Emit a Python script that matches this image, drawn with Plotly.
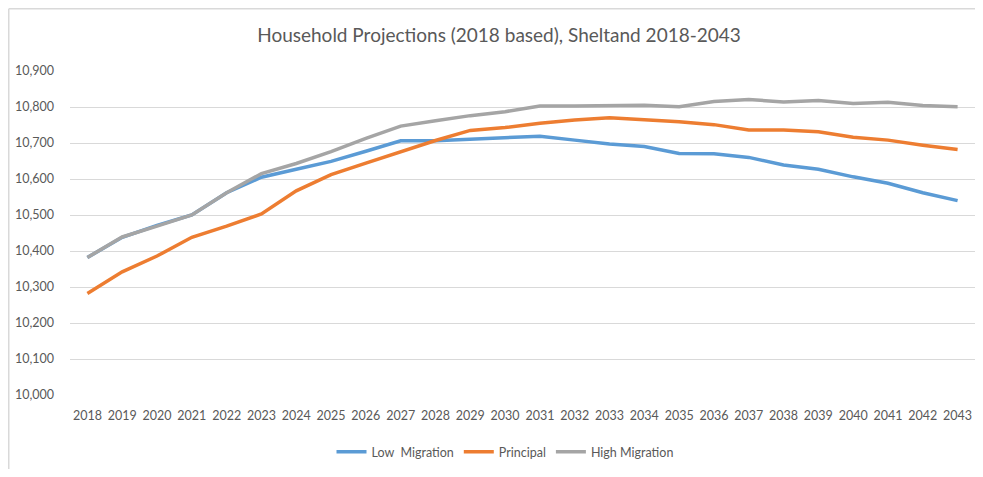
import plotly.graph_objects as go

years = [str(y) for y in range(2018, 2044)]
low_migration = [10382, 10438, 10471, 10500, 10562, 10605, 10627, 10649, 10677, 10706,
                 10706, 10710, 10715, 10719, 10708, 10697, 10690, 10671, 10670, 10660,
                 10639, 10627, 10606, 10588, 10562, 10540]
principal = [10282, 10342, 10386, 10438, 10469, 10503, 10567, 10612, 10644, 10676,
             10707, 10735, 10743, 10755, 10764, 10770, 10765, 10759, 10751, 10736,
             10736, 10731, 10716, 10708, 10694, 10682]
high_migration = [10382, 10439, 10469, 10500, 10562, 10615, 10643, 10676, 10713, 10747,
                  10762, 10776, 10787, 10803, 10803, 10804, 10805, 10801, 10815, 10821,
                  10814, 10818, 10810, 10813, 10804, 10801]
y_ticks = list(range(10000, 10901, 100))

FONT = "Lato"
TXT = "#595959"

fig = go.Figure()
fig.add_trace(go.Scatter(x=years, y=low_migration, name="Low  Migration", mode="lines",
                         line=dict(color="#5B9BD5", width=3.5)))
fig.add_trace(go.Scatter(x=years, y=principal, name="Principal", mode="lines",
                         line=dict(color="#ED7D31", width=3.5)))
fig.add_trace(go.Scatter(x=years, y=high_migration, name="High Migration", mode="lines",
                         line=dict(color="#A5A5A5", width=3.5)))

# page has an 8px body margin, so the figure is drawn smaller and offset
W, H = 967, 461
L, R, T, B = 62, 0, 63, 74
pw, ph = W - L - R, H - T - B

def px_x(x):
    return (x - L) / pw

def px_y(y):
    return (H - B - y) / ph

border = dict(color="#D9D9D9", width=1.5)
xl, xr, yt = px_x(0.75), px_x(W), px_y(0.75)
fig.add_shape(type="line", xref="paper", yref="paper", x0=xl, x1=xl, y0=px_y(H), y1=yt,
              line=border, layer="below")
fig.add_shape(type="line", xref="paper", yref="paper", x0=xl, x1=xr, y0=yt, y1=yt,
              line=border, layer="below")

fig.update_layout(
    width=W, height=H,
    margin=dict(l=L, r=R, t=T, b=B),
    paper_bgcolor="white", plot_bgcolor="white",
    font=dict(family=FONT, color=TXT),
    title=dict(text="Household Projections (2018 based), Sheltand 2018-2043",
               x=491 / W, xanchor="center", xref="container",
               y=1 - 27 / H, yanchor="middle", yref="container",
               font=dict(family=FONT, size=19, color=TXT)),
    showlegend=True,
    legend=dict(orientation="h", xref="container", x=497 / W, xanchor="center",
                yref="container", y=1 - 444 / H, yanchor="middle",
                font=dict(family=FONT, size=12.5, color=TXT),
                itemwidth=30, tracegroupgap=0, bgcolor="rgba(0,0,0,0)"),
    xaxis=dict(type="category", range=[-0.5, 25.5], showgrid=False, zeroline=False,
               showline=False, ticks="", tickfont=dict(family=FONT, size=12.5, color=TXT),
               ticklabelstandoff=11, fixedrange=True),
    yaxis=dict(range=[10000, 10900], tickvals=y_ticks,
               ticktext=[f"{v:,}" for v in y_ticks],
               showgrid=True, gridcolor="#D9D9D9", gridwidth=1, zeroline=False,
               showline=False, ticks="", tickfont=dict(family=FONT, size=12.5, color=TXT),
               ticklabelstandoff=15, fixedrange=True),
)

fig.write_html("out.html")
